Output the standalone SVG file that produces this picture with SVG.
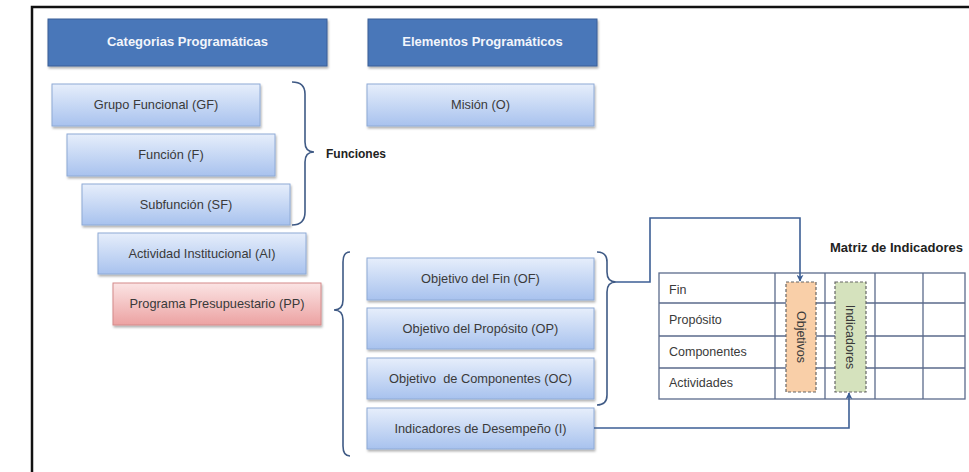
<svg xmlns="http://www.w3.org/2000/svg" width="969" height="472" viewBox="0 0 969 472">
<defs>
<linearGradient id="gBlue" x1="0" y1="0" x2="0" y2="1">
<stop offset="0" stop-color="#e6eefb"/>
<stop offset="1" stop-color="#a8c2ee"/>
</linearGradient>
<linearGradient id="gPink" x1="0" y1="0" x2="0" y2="1">
<stop offset="0" stop-color="#fbe4e4"/>
<stop offset="1" stop-color="#eca2a2"/>
</linearGradient>
<filter id="sh" x="-10%" y="-10%" width="130%" height="140%">
<feDropShadow dx="1" dy="2" stdDeviation="1.2" flood-color="#000" flood-opacity="0.3"/>
</filter>
<marker id="arr" viewBox="0 0 10 10" refX="9" refY="5" markerWidth="7" markerHeight="7" orient="auto-start-reverse" markerUnits="userSpaceOnUse">
<path d="M0,0 L10,5 L0,10 L3,5 Z" fill="#3d5f95"/>
</marker>
</defs>
<style>
.hdr{fill:#4a77b9;stroke:#3a5f96;stroke-width:1}
.node{fill:url(#gBlue);stroke:#8eaad6;stroke-width:1}
.pink{fill:url(#gPink);stroke:#d48a8a;stroke-width:1}
.ht{font-family:"Liberation Sans",Arial,sans-serif;font-size:13px;font-weight:bold;fill:#f2f5fb;text-anchor:middle}
.nt{font-family:"Liberation Sans",Arial,sans-serif;font-size:12.8px;fill:#3a3a3a;text-anchor:middle;white-space:pre}
.lt{font-family:"Liberation Sans",Arial,sans-serif;font-size:12.5px;fill:#3a3a3a}
.bt{font-family:"Liberation Sans",Arial,sans-serif;font-size:12px;font-weight:bold;fill:#222}
.brace{fill:none;stroke:#3f5a85;stroke-width:1.6}
.conn{fill:none;stroke:#3d5f95;stroke-width:1.6}
.grid{stroke:#5b6b8c;stroke-width:1.3;fill:none}
</style>
<rect width="969" height="472" fill="#ffffff"/>
<path d="M32,472 L32,7 L969,7" fill="none" stroke="#111" stroke-width="2.5"/>

<g id="hdr-categorias"><rect class="hdr" x="48" y="19" width="279" height="47" filter="url(#sh)"/><text class="ht" x="187.5" y="46">Categorias Programáticas</text></g>
<g id="hdr-elementos"><rect class="hdr" x="368" y="19" width="229" height="47" filter="url(#sh)"/><text class="ht" x="482.5" y="46">Elementos Programáticos</text></g>

<g id="n-gf"><rect class="node" x="52" y="84" width="208" height="42" filter="url(#sh)"/><text class="nt" x="156" y="109">Grupo Funcional (GF)</text></g>
<g id="n-f"><rect class="node" x="67" y="134" width="208" height="42" filter="url(#sh)"/><text class="nt" x="171" y="159">Función (F)</text></g>
<g id="n-sf"><rect class="node" x="82" y="184" width="208" height="41" filter="url(#sh)"/><text class="nt" x="186" y="209">Subfunción (SF)</text></g>
<g id="n-ai"><rect class="node" x="98" y="233" width="208" height="41" filter="url(#sh)"/><text class="nt" x="202" y="258">Actividad Institucional (AI)</text></g>
<g id="n-pp"><rect class="pink" x="113" y="283" width="208" height="42" filter="url(#sh)"/><text class="nt" x="217" y="308">Programa Presupuestario (PP)</text></g>

<g id="n-mision"><rect class="node" x="367" y="84" width="227" height="42" filter="url(#sh)"/><text class="nt" x="480.5" y="109">Misión (O)</text></g>
<g id="n-of"><rect class="node" x="367" y="258" width="227" height="42" filter="url(#sh)"/><text class="nt" x="480.5" y="283">Objetivo del Fin (OF)</text></g>
<g id="n-op"><rect class="node" x="367" y="308" width="227" height="41" filter="url(#sh)"/><text class="nt" x="480.5" y="333">Objetivo del Propósito (OP)</text></g>
<g id="n-oc"><rect class="node" x="367" y="358" width="227" height="41" filter="url(#sh)"/><text class="nt" x="480.5" y="383" xml:space="preserve">Objetivo  de Componentes (OC)</text></g>
<g id="n-ind"><rect class="node" x="367" y="408" width="227" height="41" filter="url(#sh)"/><text class="nt" x="480.5" y="433">Indicadores de Desempeño (I)</text></g>

<g id="brace-funciones">
<path class="brace" d="M292,82 Q305,82 305,94 L305,142 Q305,152 314,152 Q305,152 305,162 L305,212 Q305,225 292,225"/>
<text class="bt" x="326" y="158">Funciones</text>
</g>
<g id="brace-left">
<path class="brace" d="M350,252 Q343,252 343,262 L343,300 Q343,310 334,310 Q343,310 343,320 L343,446 Q343,456 350,456"/>
</g>
<g id="brace-right">
<path class="brace" d="M597,252 Q607,252 607,262 L607,272 Q607,282 616,282 Q607,282 607,292 L607,395 Q607,405 597,405"/>
</g>

<g id="matriz">
<text class="bt" x="830" y="252" style="font-size:13px">Matriz de Indicadores</text>
<rect x="659" y="273" width="306" height="126" fill="#fff" stroke="#5b6b8c" stroke-width="1.3"/>
<path class="grid" d="M659,303 H965 M659,336 H965 M659,368 H965 M775,273 V399 M825,273 V399 M875,273 V399 M923,273 V399"/>
<g id="box-objetivos">
<rect x="786" y="282" width="30" height="110" fill="#f9cfa8" stroke="#666" stroke-width="1.2" stroke-dasharray="3,2"/>
<text class="lt" transform="translate(797,337) rotate(90)" text-anchor="middle">Objetivos</text>
</g>
<g id="box-indicadores">
<rect x="835" y="282" width="31" height="110" fill="#d5e2bd" stroke="#666" stroke-width="1.2" stroke-dasharray="3,2"/>
<text class="lt" transform="translate(846,337) rotate(90)" text-anchor="middle">Indicadores</text>
</g>
<text class="lt" x="669" y="294">Fin</text>
<text class="lt" x="669" y="324">Propósito</text>
<text class="lt" x="669" y="356">Componentes</text>
<text class="lt" x="669" y="387">Actividades</text>
</g>

<g id="connectors">
<path class="conn" d="M616,282 H650 V218 H800 V281" marker-end="url(#arr)"/>
<path class="conn" d="M594,428 H849 V393" marker-end="url(#arr)"/>
</g>
</svg>
